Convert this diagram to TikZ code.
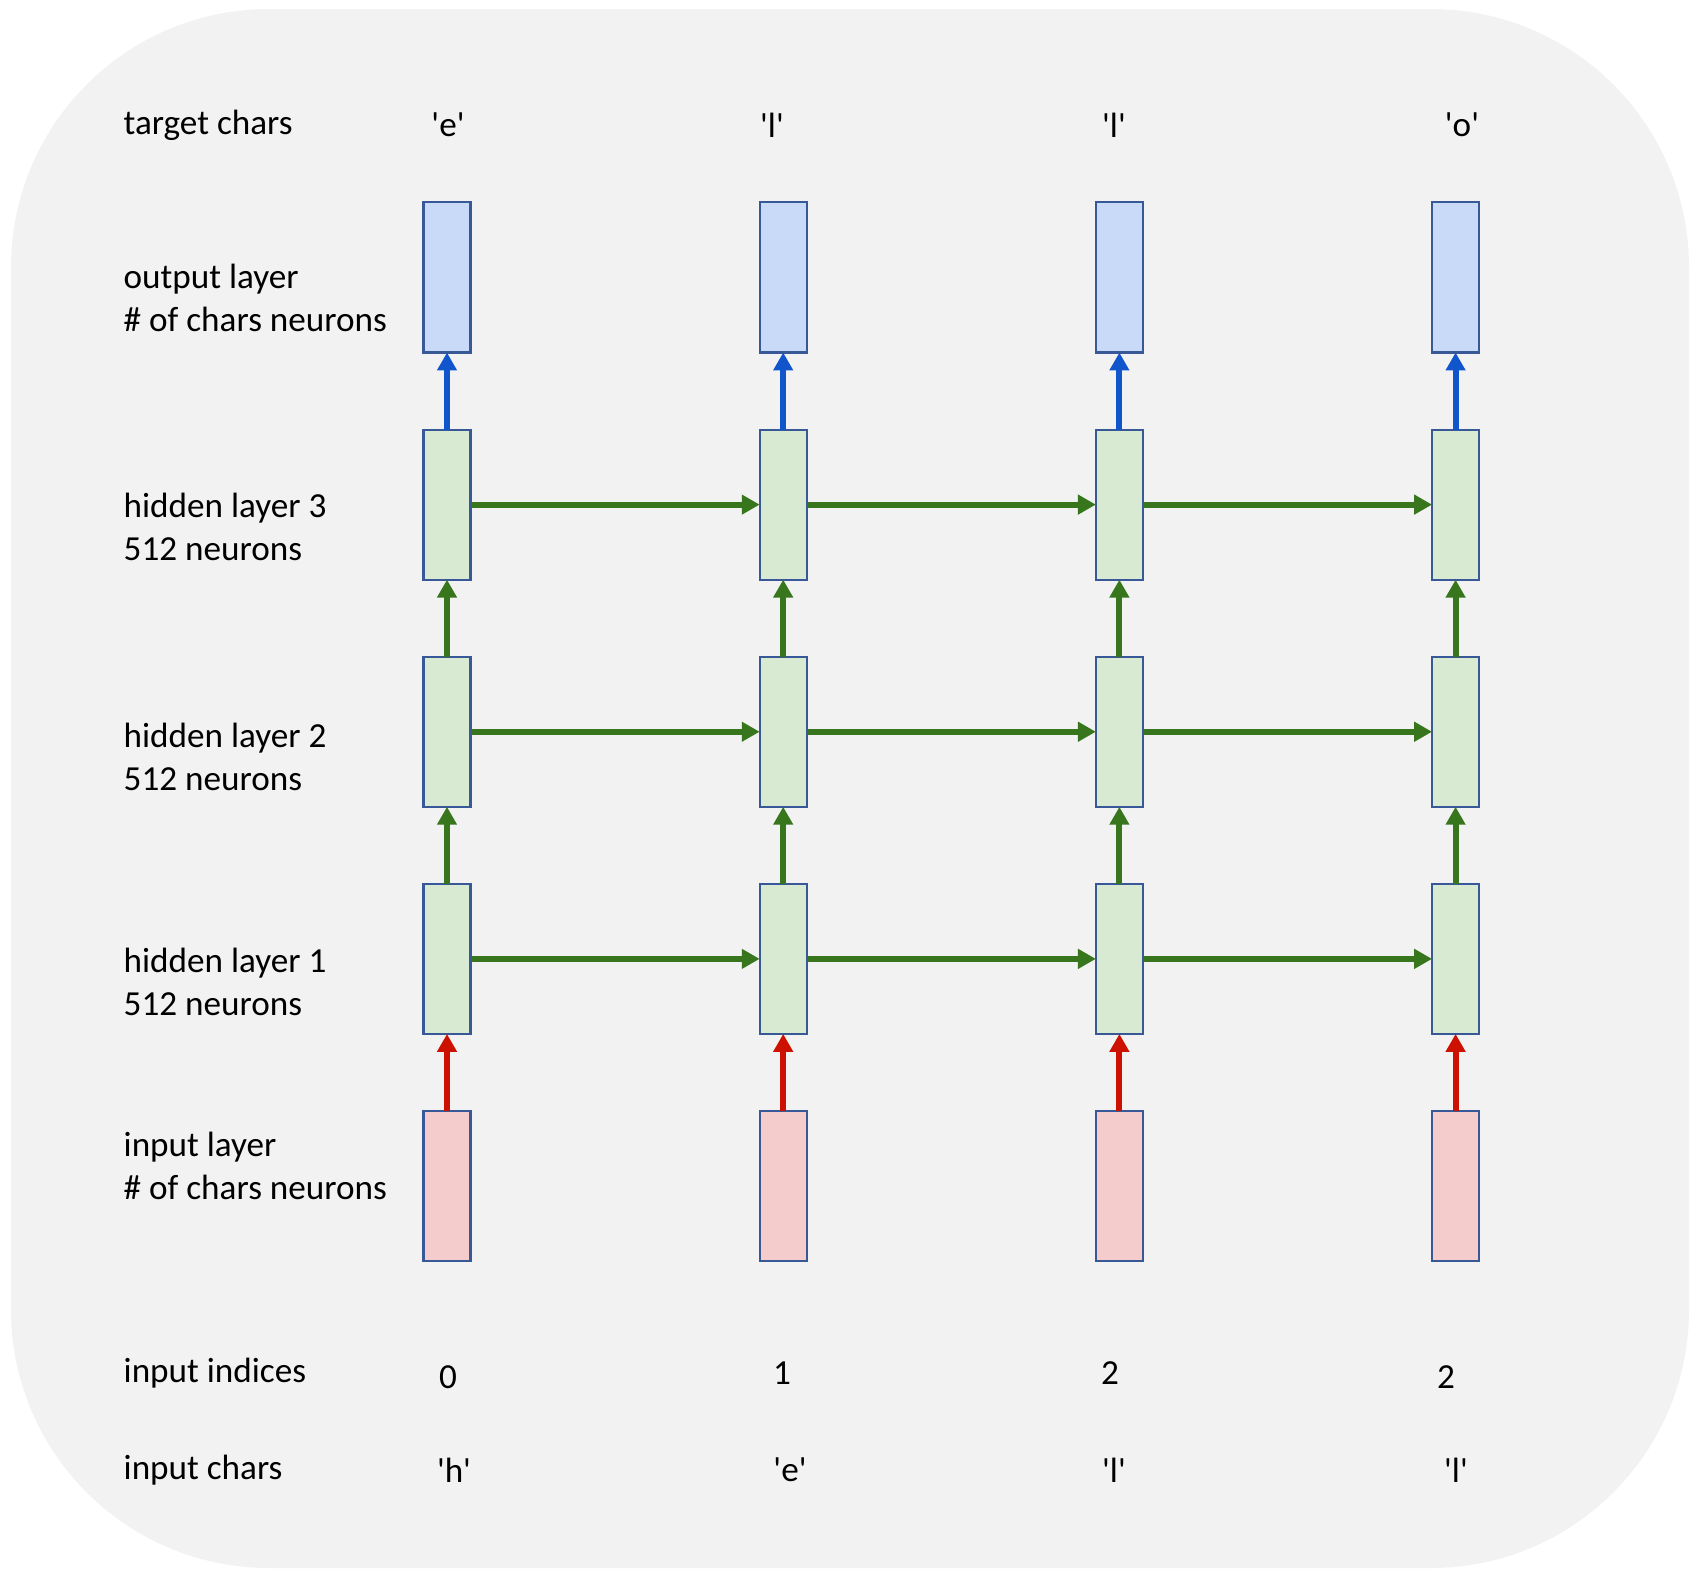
\documentclass[tikz,border=0pt]{standalone}
\usepackage{fontspec}
\setmainfont{Carlito}
\usepackage{xcolor}
\usepackage{tikz}
\usetikzlibrary{arrows.meta, positioning}

\definecolor{bgray}{HTML}{F2F2F2}
\definecolor{edgeblue}{HTML}{385898}
\definecolor{outfill}{HTML}{C9DAF8}
\definecolor{hidfill}{HTML}{D9EAD3}
\definecolor{infill}{HTML}{F4CCCC}
\definecolor{bluearr}{HTML}{1155CC}
\definecolor{greenarr}{HTML}{38761D}
\definecolor{redarr}{HTML}{CC1100}

\newcommand{\sq}{\textquotesingle}

\begin{document}
\begin{tikzpicture}[
    x=0.01cm, y=-0.01cm,
    font=\fontsize{10}{12.2}\selectfont,
    node distance=0.77cm,
    cell/.style={rectangle, draw=edgeblue, line width=0.6pt, minimum width=0.47cm, minimum height=1.50cm, inner sep=0pt, outer sep=0pt},
    outbox/.style={cell, fill=outfill},
    hidbox/.style={cell, fill=hidfill},
    inbox/.style={cell, fill=infill},
    lbl/.style={anchor=west, align=left, inner sep=0pt},
    chr/.style={inner sep=0pt},
    arr/.style={-{Triangle[width=5.4pt, length=5.1pt]}, line width=1.7pt}
]

% Background
\fill[bgray, rounded corners=2.58cm] (11,9) rectangle (1689,1568);
\useasboundingbox (0,0) rectangle (1702,1575);

% Row labels
\node[lbl] (ltarget) at (123,125) {target chars};
\node[lbl] (lout) at (123,298) {output layer\\\# of chars neurons};
\node[lbl] (lhidc) at (123,527) {hidden layer 3\\512 neurons};
\node[lbl] (lhidb) at (123,757) {hidden layer 2\\512 neurons};
\node[lbl] (lhida) at (123,982) {hidden layer 1\\512 neurons};
\node[lbl] (lin) at (123,1166) {input layer\\\# of chars neurons};
\node[lbl] (lidx) at (123,1373) {input indices};
\node[lbl] (lchars) at (123,1470) {input chars};

% Input layer
\node[inbox] (in1) at (447,1186) {};
\node[inbox, right=2.89cm of in1] (in2) {};
\node[inbox, right=2.89cm of in2] (in3) {};
\node[inbox, right=2.89cm of in3] (in4) {};

% Hidden layers
\node[hidbox, above=of in1] (ha1) {};
\node[hidbox, above=of in2] (ha2) {};
\node[hidbox, above=of in3] (ha3) {};
\node[hidbox, above=of in4] (ha4) {};
\node[hidbox, above=of ha1] (hb1) {};
\node[hidbox, above=of ha2] (hb2) {};
\node[hidbox, above=of ha3] (hb3) {};
\node[hidbox, above=of ha4] (hb4) {};
\node[hidbox, above=of hb1] (hc1) {};
\node[hidbox, above=of hb2] (hc2) {};
\node[hidbox, above=of hb3] (hc3) {};
\node[hidbox, above=of hb4] (hc4) {};

% Output layer
\node[outbox, above=of hc1] (out1) {};
\node[outbox, above=of hc2] (out2) {};
\node[outbox, above=of hc3] (out3) {};
\node[outbox, above=of hc4] (out4) {};

% Target chars
\node[chr] (tgt1) at (448,125) {\sq e\sq};
\node[chr] (tgt2) at (772,125) {\sq l\sq};
\node[chr] (tgt3) at (1114,125) {\sq l\sq};
\node[chr] (tgt4) at (1462,125) {\sq o\sq};

% Input indices
\node[chr] (idx1) at (448,1377) {0};
\node[chr] (idx2) at (782,1373) {1};
\node[chr] (idx3) at (1110,1373) {2};
\node[chr] (idx4) at (1446,1377) {2};

% Input chars
\node[chr] (ch1) at (454,1470) {\sq h\sq};
\node[chr] (ch2) at (790,1470) {\sq e\sq};
\node[chr] (ch3) at (1114,1470) {\sq l\sq};
\node[chr] (ch4) at (1456,1470) {\sq l\sq};

% Arrows
\draw[arr, redarr] (in1) -- (ha1);
\draw[arr, redarr] (in2) -- (ha2);
\draw[arr, redarr] (in3) -- (ha3);
\draw[arr, redarr] (in4) -- (ha4);
\draw[arr, greenarr] (ha1) -- (hb1);
\draw[arr, greenarr] (ha2) -- (hb2);
\draw[arr, greenarr] (ha3) -- (hb3);
\draw[arr, greenarr] (ha4) -- (hb4);
\draw[arr, greenarr] (hb1) -- (hc1);
\draw[arr, greenarr] (hb2) -- (hc2);
\draw[arr, greenarr] (hb3) -- (hc3);
\draw[arr, greenarr] (hb4) -- (hc4);
\draw[arr, bluearr] (hc1) -- (out1);
\draw[arr, bluearr] (hc2) -- (out2);
\draw[arr, bluearr] (hc3) -- (out3);
\draw[arr, bluearr] (hc4) -- (out4);
\draw[arr, greenarr] (ha1) -- (ha2);
\draw[arr, greenarr] (ha2) -- (ha3);
\draw[arr, greenarr] (ha3) -- (ha4);
\draw[arr, greenarr] (hb1) -- (hb2);
\draw[arr, greenarr] (hb2) -- (hb3);
\draw[arr, greenarr] (hb3) -- (hb4);
\draw[arr, greenarr] (hc1) -- (hc2);
\draw[arr, greenarr] (hc2) -- (hc3);
\draw[arr, greenarr] (hc3) -- (hc4);

\end{tikzpicture}
\end{document}
